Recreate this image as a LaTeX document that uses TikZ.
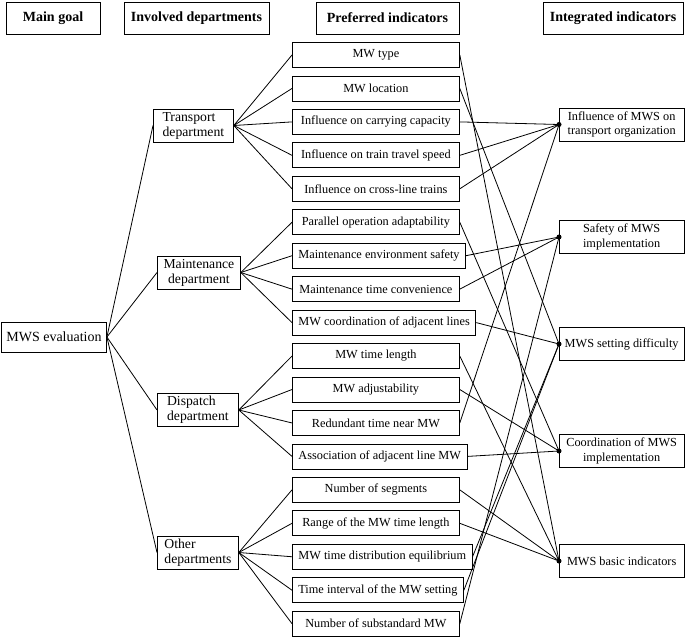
\documentclass[tikz,border=0pt]{standalone}
\usepackage{fontspec}
\setmainfont{Liberation Serif}
\begin{document}
\begin{tikzpicture}[x=1pt,y=-1pt,line width=0.8pt,
 hdr/.style={draw, minimum height=32pt, inner sep=0pt, font=\bfseries\fontsize{14}{16}\selectfont},
 ind/.style={draw, anchor=west, minimum width=167pt, minimum height=25pt, inner xsep=6pt, inner ysep=0pt, font=\fontsize{12.3}{14}\selectfont},
 dep/.style={draw, anchor=west, minimum height=33pt, inner xsep=6pt, inner ysep=1pt, font=\fontsize{13.7}{15}\selectfont},
 integ/.style={draw, anchor=west, minimum width=124.5pt, minimum height=33pt, inner sep=2pt, align=center, font=\fontsize{12.3}{14.5}\selectfont},
 jdot/.style={circle, fill=black, inner sep=0pt, minimum size=5pt}
]
\useasboundingbox (0,0) rectangle (685,637);
% headers
\node[hdr, minimum width=94pt] (h1) at (53,18) {Main goal};
\node[hdr, minimum width=145pt] (h2) at (196.5,18) {Involved departments};
\node[hdr, minimum width=143pt] (h3) at (387.5,18) {Preferred indicators};
\node[hdr, minimum width=140pt] (h4) at (613,18) {Integrated indicators};
% main goal
\node[draw, minimum width=105pt, minimum height=30pt, inner sep=0pt, font=\fontsize{14}{16}\selectfont] (goal) at (54,337) {MWS evaluation};
% departments
\node[dep, align=left, minimum width=80pt] (d1) at (153,125.5) {Transport\\department};
\node[dep, align=center, minimum width=83pt] (d2) at (157,272.5) {Maintenance\\department};
\node[dep, align=left, minimum width=81pt] (d3) at (157,410) {Dispatch\\department};
\node[dep, align=left, minimum width=81pt] (d4) at (157,552.5) {Other\\departments};
% indicators
\node[ind] (i1) at (292,55) {MW type};
\node[ind] (i2) at (292,88.45) {MW location};
\node[ind] (i3) at (292,121.9) {Influence on carrying capacity};
\node[ind] (i4) at (292,155.35) {Influence on train travel speed};
\node[ind] (i5) at (292,188.8) {Influence on cross-line trains};
\node[ind] (i6) at (292,222.25) {Parallel operation adaptability};
\node[ind] (i7) at (292,255.7) {Maintenance environment safety};
\node[ind] (i8) at (292,289.15) {Maintenance time convenience};
\node[ind] (i9) at (292,322.6) {MW coordination of adjacent lines};
\node[ind] (i10) at (292,356.05) {MW time length};
\node[ind] (i11) at (292,389.5) {MW adjustability};
\node[ind] (i12) at (292,422.95) {Redundant time near MW};
\node[ind] (i13) at (292,456.4) {Association of adjacent line MW};
\node[ind] (i14) at (292,489.85) {Number of segments};
\node[ind] (i15) at (292,523.3) {Range of the MW time length};
\node[ind] (i16) at (292,556.75) {MW time distribution equilibrium};
\node[ind] (i17) at (292,590.2) {Time interval of the MW setting};
\node[ind] (i18) at (292,623.65) {Number of substandard MW};
% integrated indicators
\node[integ] (A) at (559,124.5) {Influence of MWS on\\transport organization};
\node[integ] (B) at (559,237) {Safety of MWS\\implementation};
\node[integ] (C) at (559,344) {MWS setting difficulty};
\node[integ] (D) at (559,451) {Coordination of MWS\\implementation};
\node[integ] (E) at (559,561) {MWS basic indicators};
% goal to departments
\foreach \d in {d1,d2,d3,d4} \draw (goal.east) -- (\d.west);
% departments to indicators
\foreach \i in {1,...,5} \draw (d1.east) -- (i\i.west);
\foreach \i in {6,...,9} \draw (d2.east) -- (i\i.west);
\foreach \i in {10,...,13} \draw (d3.east) -- (i\i.west);
\foreach \i in {14,...,18} \draw (d4.east) -- (i\i.west);
% indicators to integrated indicators
\foreach \i in {3,4,5,12} \draw (i\i.east) -- (A.west);
\foreach \i in {7,8,18} \draw (i\i.east) -- (B.west);
\foreach \i in {2,9,16,17} \draw (i\i.east) -- (C.west);
\foreach \i in {6,11,13} \draw (i\i.east) -- (D.west);
\foreach \i in {1,10,14,15} \draw (i\i.east) -- (E.west);
\foreach \n in {A,B,C,D,E} \node[jdot] (dot\n) at (\n.west) {};
\end{tikzpicture}
\end{document}
